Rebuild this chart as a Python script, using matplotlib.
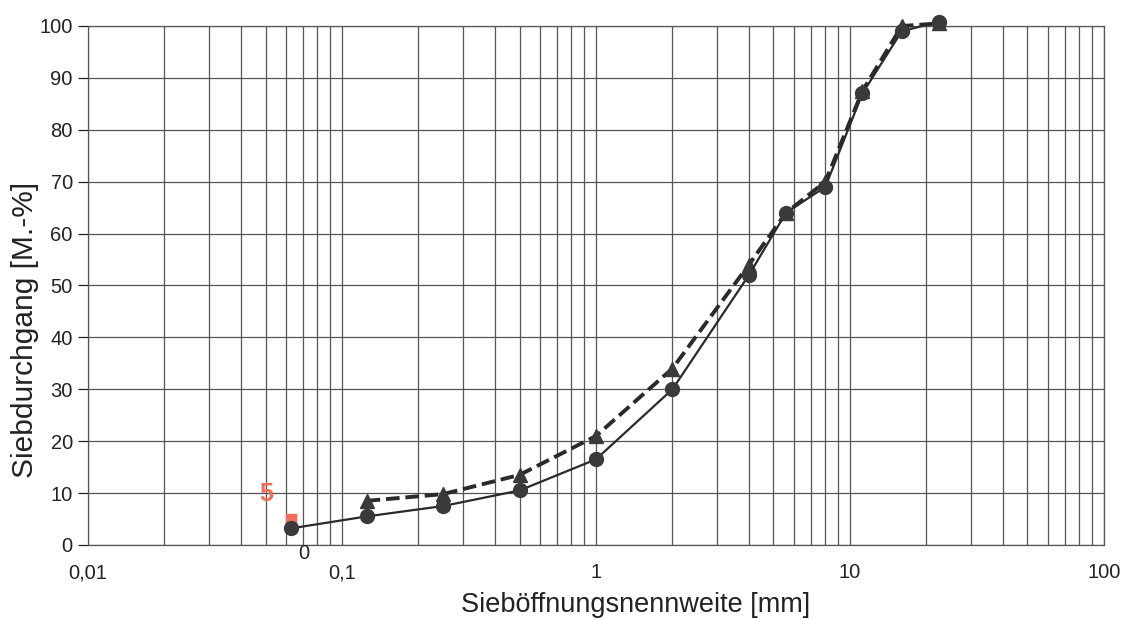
import matplotlib
matplotlib.use("Agg")
from matplotlib import pyplot as plt
from matplotlib.ticker import FixedLocator, NullFormatter

plt.rcParams['font.family'] = ['Liberation Sans', 'DejaVu Sans']

# Siebweiten [mm]
sieve = [0.063, 0.125, 0.25, 0.5, 1, 2, 4, 5.6, 8, 11.2, 16, 22.4]
# Sieblinie 1 (durchgezogen, Kreise)
pass_solid = [3.2, 5.5, 7.5, 10.5, 16.5, 30, 52, 64, 69, 87, 99, 100.8]
# Sieblinie 2 (gestrichelt, Dreiecke)
sieve_dash = sieve[1:]
pass_dash = [8.5, 9.8, 13.5, 21, 34, 54, 64, 70, 87.5, 100, 100.5]
# Feinanteil-Marker
fine_x = [0.063]
fine_y = [5]
zero_label = "0"

fig = plt.figure(figsize=(11.23, 6.19), dpi=100)
ax = fig.add_axes([0.0784, 0.1196, 0.9046, 0.8384])

ax.set_xscale('log')
ax.set_xlim(0.01, 100)
ax.set_ylim(0, 100)

dark = '#3a3a3a'
ax.plot(sieve, pass_solid, '-', color='#2a2a2a', lw=1.6, marker='o',
        ms=10, mfc=dark, mec=dark, zorder=4, clip_on=False)
ax.plot(sieve_dash, pass_dash, '--', color='#2a2a2a', lw=2.8, dashes=(3.5, 1.5),
        marker='^', ms=10, mfc=dark, mec=dark, zorder=3, clip_on=False)
ax.plot(fine_x, fine_y, 's', color='#ee6f5a', ms=7, zorder=3)
ax.annotate(str(fine_y[0]), (fine_x[0], fine_y[0]), xytext=(-18, 18),
            textcoords='offset points', ha='center', va='center',
            color='#ee6f5a', fontsize=18, fontweight='bold')
ax.annotate(zero_label, (fine_x[0], 0), xytext=(9, -6),
            textcoords='offset points', ha='center', va='center',
            color='#222222', fontsize=14.5, annotation_clip=False)

ax.set_yticks(range(0, 101, 10))
ax.xaxis.set_major_locator(FixedLocator([0.01, 0.1, 1, 10, 100]))
minors = [m * 10.0 ** e for e in range(-2, 2) for m in range(2, 10)]
ax.xaxis.set_minor_locator(FixedLocator(minors))
ax.xaxis.set_minor_formatter(NullFormatter())
ax.set_xticklabels(['0,01', '0,1', '1', '10', '100'])

ax.grid(True, which='both', axis='x', color='#555555', lw=0.9)
ax.grid(True, which='major', axis='y', color='#555555', lw=0.9)
ax.tick_params(axis='both', which='major', labelsize=14.5, colors='#222222',
               length=6, width=0.9)
ax.tick_params(axis='x', which='major', length=0, pad=13)
ax.tick_params(axis='x', which='minor', length=0)
ax.tick_params(axis='y', length=7, pad=4)

for s in ax.spines.values():
    s.set_color('#555555')
    s.set_linewidth(0.9)

ax.set_xlabel('Sieböffnungsnennweite [mm]', fontsize=19.5, color='#222222', va='center')
ax.xaxis.set_label_coords(0.539, -0.1156)
ax.set_ylabel('Siebdurchgang [M.-%]', fontsize=21.5, color='#222222', va='center')
ax.yaxis.set_label_coords(-0.062, 0.414)

fig.savefig('out.png', dpi=100)
